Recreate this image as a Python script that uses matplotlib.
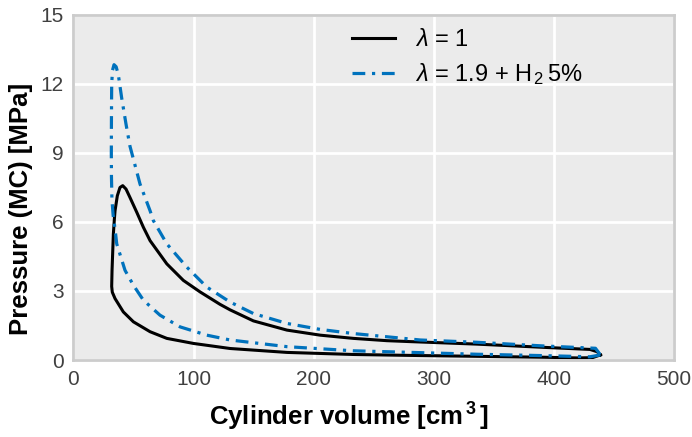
import numpy as np
import matplotlib.pyplot as plt

plt.rcParams['font.family'] = ['Liberation Sans', 'DejaVu Sans']
plt.rcParams['mathtext.fontset'] = 'custom'
plt.rcParams['mathtext.rm'] = 'Liberation Sans'
plt.rcParams['mathtext.it'] = 'Liberation Sans:italic'
plt.rcParams['mathtext.bf'] = 'Liberation Sans:bold'

# lambda = 1 loop: compression (right -> left), combustion, expansion (left -> right)
vol_l1 = [438.75, 432, 419, 391.5, 336, 280, 233, 177.7, 130.4, 99.9, 77.7, 63.75,
          49.9, 41.5, 34.6, 32.3, 31.8, 32.1, 32.6, 33.2, 34.0, 34.6, 36.5, 38.7,
          41.0, 43.75, 47.0, 52.7, 58.2, 63.75, 77.7, 91.5, 105.4, 122, 130.4,
          149.8, 177.7, 205.4, 233, 261, 280, 336, 391.5, 430, 436, 438.75]
p_l1 = [0.22, 0.1, 0.09, 0.12, 0.16, 0.2, 0.24, 0.33, 0.5, 0.72, 0.94, 1.23,
        1.66, 2.09, 2.67, 2.95, 3.2, 3.9, 4.62, 5.48, 6.1, 6.49, 7.14, 7.5,
        7.58, 7.43, 7.07, 6.42, 5.77, 5.19, 4.18, 3.46, 2.96, 2.42, 2.18,
        1.7, 1.3, 1.08, 0.94, 0.84, 0.8, 0.69, 0.55, 0.46, 0.36, 0.22]

# lambda = 1.9 + H2 5% loop
vol_h2 = [438.75, 430, 391.5, 336, 288.75, 233, 177.7, 130.4, 111, 88.75, 72,
          58.2, 49.9, 42.9, 36.0, 34.6, 33.0, 32.0, 31.6, 31.5, 31.6, 31.8, 32.5,
          33.75, 35.5, 37.3, 40.1, 43.75, 47.0, 49.9, 55.4, 63.75, 66.5, 77.7,
          94.3, 111, 130.4, 149.8, 177.7, 205.4, 233, 261, 288.75, 336, 391.5,
          434.6, 438.75]
p_h2 = [0.22, 0.14, 0.19, 0.25, 0.32, 0.4, 0.58, 0.87, 1.08, 1.44, 1.95,
        2.6, 3.25, 3.9, 5.05, 5.7, 6.3, 7.0, 8.0, 9.0, 10.5, 12.0, 12.6,
        12.84, 12.75, 12.41, 11.4, 10.25, 9.3, 8.73, 7.65, 6.49, 6.06, 5.05,
        4.04, 3.17, 2.52, 2.02, 1.59, 1.33, 1.15, 1.01, 0.87, 0.77, 0.61,
        0.51, 0.22]

fig = plt.figure(figsize=(6.92, 4.37), dpi=100)
ax = fig.add_axes([0.1062, 0.1762, 0.8678, 0.7895])
ax.set_facecolor('#ebebeb')

ax.plot(vol_l1, p_l1, color='black', lw=2.2, solid_joinstyle='round',
        label=r'$\lambda$ = 1')
ax.plot(vol_h2, p_h2, color='#0072bd', lw=2.3, linestyle=(0, (4, 2.1, 1, 2.1)),
        label=r'$\lambda$ = 1.9 + H$_{\,2}\,$5%')

ax.set_xlim(0, 500)
ax.set_ylim(0, 15)
ax.set_xticks(np.arange(0, 501, 100))
ax.set_yticks(np.arange(0, 16, 3))
ax.grid(True, color='white', lw=2)
ax.set_axisbelow(True)
ax.tick_params(length=0, labelsize=15, labelcolor='#404040')
ax.tick_params(axis='x', pad=7)
ax.tick_params(axis='y', pad=7)
for s in ax.spines.values():
    s.set_color('#cccccc')
    s.set_linewidth(2)

ax.set_xlabel(r'Cylinder volume [cm$^{\,\mathbf{3}}\,$]', fontsize=18.5,
              fontweight='bold')
ax.set_ylabel('Pressure (MC) [MPa]', fontsize=18.5, fontweight='bold')
ax.xaxis.set_label_coords(0.459, -0.119)
ax.yaxis.set_label_coords(-0.067, 0.438)

ax.legend(loc='upper left', bbox_to_anchor=(0.463, 0.958), frameon=False,
          fontsize=17, handlelength=1.85, handletextpad=0.85, labelspacing=0.4,
          borderpad=0, borderaxespad=0)

fig.savefig('out.png', dpi=100)
